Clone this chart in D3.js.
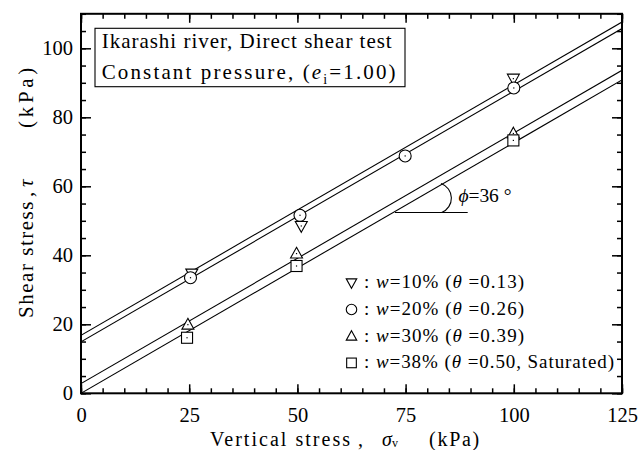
<!DOCTYPE html>
<html><head><meta charset="utf-8">
<script src="https://cdn.jsdelivr.net/npm/d3@7"></script>
<style>
body{margin:0;background:#fff}
svg text{font-family:"Liberation Serif","Tinos","Times New Roman","DejaVu Serif","Noto Serif",serif;fill:#000}
</style>
</head><body><svg id="c" width="643" height="450" xmlns="http://www.w3.org/2000/svg"></svg>
<script>
// ---- data ----
const xTicks = [0, 25, 50, 75, 100, 125];
const yTicks = [0, 20, 40, 60, 80, 100];
const xMinor = d3.range(0, 126, 5);
const yMinor = d3.range(0, 111, 5);
const seriesSymbols = ["tri-down", "circle", "tri-up", "square"];
const seriesLabels = ["w=10%", "w=20%", "w=30%", "w=38%"];
const seriesTheta = ["0.13", "0.26", "0.39", "0.50, Saturated"];
const seriesX = [[25.6, 50.9, 99.9], [25.3, 50.6, 74.9, 100], [24.7, 49.8, 99.9], [24.5, 49.8, 99.9]];
const seriesY = [[34.7, 48.5, 91.2], [33.5, 51.6, 68.8, 88.5], [19.9, 40.5, 75.3], [16.1, 36.9, 73.3]];
const lineIntercepts = [16.8, 14.9, 2.8, 0];
const frictionAngle = 36;
const annotLine = {x0: 72.55, x1: 89.35, y: 52.4};
const annotLabel = {x: 87.2, y: 55.5};

// ---- layout ----
const svg = d3.select("#c");
const M = {l: 81, t: 13.8, r: 21, b: 56.7};
const W = 643 - M.l - M.r, H = 450 - M.t - M.b;
const x = d3.scaleLinear().domain([0, 125]).range([0, W]);
const y = d3.scaleLinear().domain([0, 110]).range([H, 0]);
const g = svg.append("g").attr("transform", `translate(${M.l},${M.t})`);

// stretch a text's letter spacing so it spans a target width
function fit(sel, target) {
  const node = sel.node();
  const n = node.textContent.length;
  const len = node.getComputedTextLength();
  sel.attr("letter-spacing", ((target - len) / n).toFixed(3));
}

svg.append("defs").append("clipPath").attr("id", "clip")
  .append("rect").attr("width", W).attr("height", H);

// ---- fit lines ----
const slope = Math.tan(frictionAngle * Math.PI / 180);
const lineGen = d3.line().x(d => x(d[0])).y(d => y(d[1]));
g.append("g").attr("clip-path", "url(#clip)").selectAll("path.fit")
  .data(lineIntercepts).join("path")
  .attr("fill", "none").attr("stroke", "#000").attr("stroke-width", 1.1)
  .attr("d", c => lineGen([[0, c], [125, c + slope * 125]]));

// ---- axes ----
function styleAxis(sel) {
  sel.attr("font-family", null).attr("font-size", null);
  sel.select(".domain").remove();
  sel.selectAll("line").attr("stroke", "#000").attr("stroke-width", 1.5);
  sel.selectAll("text").attr("font-size", 20.5);
}
const fmt = d3.format("d");
g.append("g").attr("transform", `translate(0,${H})`)
  .call(d3.axisBottom(x).tickValues(xMinor).tickSize(-5).tickFormat(""))
  .call(styleAxis);
g.append("g").attr("transform", `translate(0,${H})`)
  .call(d3.axisBottom(x).tickValues(xTicks).tickSize(-9).tickPadding(14).tickFormat(fmt))
  .call(styleAxis);
g.append("g")
  .call(d3.axisTop(x).tickValues(xMinor).tickSize(-5).tickFormat(""))
  .call(styleAxis);
g.append("g")
  .call(d3.axisTop(x).tickValues(xTicks).tickSize(-9).tickFormat(""))
  .call(styleAxis);
g.append("g")
  .call(d3.axisLeft(y).tickValues(yMinor).tickSize(-5).tickFormat(""))
  .call(styleAxis);
g.append("g")
  .call(d3.axisLeft(y).tickValues(yTicks).tickSize(-10).tickPadding(8).tickFormat(fmt))
  .call(styleAxis);
g.append("g").attr("transform", `translate(${W},0)`)
  .call(d3.axisRight(y).tickValues(yMinor).tickSize(-5).tickFormat(""))
  .call(styleAxis);
g.append("g").attr("transform", `translate(${W},0)`)
  .call(d3.axisRight(y).tickValues(yTicks).tickSize(-10).tickFormat(""))
  .call(styleAxis);

g.append("rect").attr("width", W).attr("height", H)
  .attr("fill", "none").attr("stroke", "#000").attr("stroke-width", 2);

// ---- markers ----
function drawSymbol(sel, type, s) {
  const h = s / 2;
  if (type === "circle") sel.append("circle").attr("r", h);
  else if (type === "square") sel.append("rect").attr("x", -h * 0.92).attr("y", -h * 0.92).attr("width", s * 0.92).attr("height", s * 0.92);
  else if (type === "tri-up") sel.append("path").attr("d", `M0,${-h * 1.05}L${h},${h * 0.75}L${-h},${h * 0.75}Z`);
  else sel.append("path").attr("d", `M0,${h * 1.05}L${h},${-h * 0.75}L${-h},${-h * 0.75}Z`);
  sel.selectAll("circle,rect,path").attr("fill", "#fff").attr("stroke", "#000").attr("stroke-width", 1.1);
}
seriesX.forEach((xs, i) => {
  xs.forEach((xv, j) => {
    const m = g.append("g").attr("transform", `translate(${x(xv)},${y(seriesY[i][j])})`);
    drawSymbol(m, seriesSymbols[i], 12);
    m.append("rect").attr("x", -0.6).attr("y", -0.6).attr("width", 1.2).attr("height", 1.2).attr("fill", "#000");
  });
});

// ---- angle annotation ----
const ax0 = x(annotLine.x0), ax1 = x(annotLine.x1), ay = y(annotLine.y);
g.append("line").attr("x1", ax0).attr("x2", ax1).attr("y1", ay).attr("y2", ay)
  .attr("stroke", "#000").attr("stroke-width", 1.1);
g.append("path")
  .attr("d", `M${ax0 + 46.7},${ay} A15.5,15.5 0 0 0 ${ax0 + 46},${ay - 29}`)
  .attr("fill", "none").attr("stroke", "#000").attr("stroke-width", 1.1);
const phi = g.append("text").attr("x", x(annotLabel.x)).attr("y", y(annotLabel.y)).attr("font-size", 19.5);
phi.append("tspan").attr("font-style", "italic").text("\u03d5");
phi.append("tspan").text("=" + frictionAngle + " \u00b0");
fit(phi, 53);

// ---- title box ----
g.append("rect").attr("x", 95 - M.l).attr("y", 28.3 - M.t).attr("width", 310).attr("height", 58.4)
  .attr("fill", "#fff").attr("stroke", "#000").attr("stroke-width", 1.1);
const t1 = g.append("text").attr("x", 101.7 - M.l).attr("y", 48.3 - M.t).attr("font-size", 21)
  .text("Ikarashi river, Direct shear test");
fit(t1, 291);
const t2 = g.append("text").attr("x", 101.7 - M.l).attr("y", 79.5 - M.t).attr("font-size", 21);
t2.append("tspan").text("Constant pressure, (");
t2.append("tspan").attr("font-style", "italic").text("e");
t2.append("tspan").attr("font-size", 14).attr("dy", 5).text("i");
t2.append("tspan").attr("dy", -5).text("=1.00)");
fit(t2, 296);

// ---- legend ----
const legendWidths = [161, 161, 161, 251];
seriesLabels.forEach((lab, i) => {
  const by = 288.3 - M.t + i * 26.7;
  const m = g.append("g").attr("transform", `translate(${351.5 - M.l},${by - 5.5})`);
  drawSymbol(m, seriesSymbols[i], 10.5);
  const t = g.append("text").attr("x", 364 - M.l).attr("y", by).attr("font-size", 19);
  t.append("tspan").text(": ");
  t.append("tspan").attr("font-style", "italic").text("w");
  t.append("tspan").text(lab.slice(1) + " (");
  t.append("tspan").attr("font-style", "italic").text("\u03b8");
  t.append("tspan").text(" =" + seriesTheta[i] + ")");
  fit(t, legendWidths[i]);
});

// ---- axis titles ----
const xt1 = svg.append("text").attr("x", 210).attr("y", 445.5).attr("font-size", 20).text("Vertical stress");
fit(xt1, 142);
svg.append("text").attr("x", 358).attr("y", 445.5).attr("font-size", 20).text(",");
const xs = svg.append("text").attr("x", 382).attr("y", 445.5).attr("font-size", 20);
xs.append("tspan").attr("font-style", "italic").text("\u03c3");
xs.append("tspan").attr("font-size", 12).attr("dy", 1.5).text("v");
const xt3 = svg.append("text").attr("x", 429).attr("y", 445.5).attr("font-size", 20).text("(kPa)");
fit(xt3, 52);

const yTitle = (txt, start, len, italic) => {
  const t = svg.append("text").attr("transform", "rotate(-90)")
    .attr("x", -start).attr("y", 33).attr("font-size", 21).text(txt);
  if (italic) t.attr("font-style", "italic");
  if (len) fit(t, len);
  return t;
};
yTitle("Shear stress", 318, 118);
yTitle(",", 197, 0);
yTitle("\u03c4", 187, 0, true);
yTitle("(kPa)", 128, 64);
</script>
</body></html>
